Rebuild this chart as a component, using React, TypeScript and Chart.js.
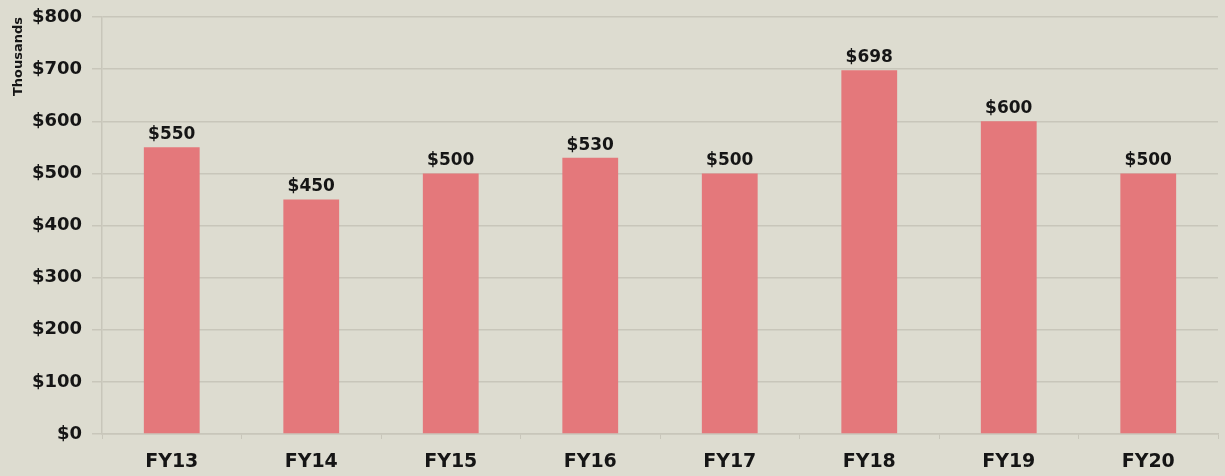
import React, { useEffect, useRef } from "react";
import { Chart, registerables } from "chart.js";

Chart.register(...registerables);

const categories = ["FY13", "FY14", "FY15", "FY16", "FY17", "FY18", "FY19", "FY20"];
const values = [550, 450, 500, 530, 500, 698, 600, 500];
const yMin = 0;
const yMax = 800;
const yStep = 100;
const axisTitle = "Thousands";

const BG = "#dddcd0";
const BAR = "#e4787b";
const TEXT = "#151515";
const GRID = "#c8c6ba";
const FONT = "'DejaVu Sans', sans-serif";

const bgPlugin = {
  id: "bgFill",
  beforeDraw(chart: any) {
    const { ctx, width, height } = chart;
    ctx.save();
    ctx.fillStyle = BG;
    ctx.fillRect(0, 0, width, height);
    ctx.restore();
  },
};

const labelPlugin = {
  id: "barLabels",
  afterDatasetsDraw(chart: any) {
    const { ctx } = chart;
    const meta = chart.getDatasetMeta(0);
    const ds = chart.data.datasets[0];
    ctx.save();
    ctx.fillStyle = TEXT;
    ctx.font = `bold 17px ${FONT}`;
    ctx.textAlign = "center";
    ctx.textBaseline = "alphabetic";
    meta.data.forEach((bar: any, i: number) => {
      ctx.fillText("$" + ds.data[i], bar.x, bar.y - 8);
    });
    ctx.restore();
  },
};

export default function App() {
  const ref = useRef<HTMLCanvasElement | null>(null);
  useEffect(() => {
    if (!ref.current) return;
    const chart = new Chart(ref.current, {
      type: "bar",
      data: {
        labels: categories,
        datasets: [
          {
            data: values,
            backgroundColor: BAR,
            borderWidth: 0,
            categoryPercentage: 1,
            barPercentage: 0.4,
          },
        ],
      },
      options: {
        responsive: false,
        animation: false,
        layout: { padding: { top: 17, right: 7, left: 0, bottom: 0 } },
        plugins: {
          legend: { display: false },
          tooltip: { enabled: false },
        },
        scales: {
          x: {
            afterFit: (s: any) => {
              s.height = 42;
              s.paddingLeft = 0;
              s.paddingRight = 0;
            },
            grid: {
              display: true,
              drawOnChartArea: false,
              drawTicks: true,
              tickLength: 5,
              color: GRID,
              offset: true,
            },
            border: { display: true, color: GRID, width: 1.5 },
            ticks: {
              color: TEXT,
              font: { family: FONT, size: 19, weight: "bold" },
              padding: 12,
              maxRotation: 0,
            },
          },
          y: {
            min: yMin,
            max: yMax,
            afterFit: (s: any) => {
              s.width = 102;
              s.paddingTop = 0;
              s.paddingBottom = 0;
            },
            grid: {
              color: GRID,
              lineWidth: 1.5,
              tickLength: 10,
            },
            border: { display: true, color: GRID, width: 1.5 },
            ticks: {
              stepSize: yStep,
              color: TEXT,
              padding: 10,
              font: { family: FONT, size: 18, weight: "bold" },
              callback: (v: any) => "$" + v,
            },
            title: {
              display: true,
              text: axisTitle,
              align: "end",
              color: TEXT,
              font: { family: FONT, size: 13, weight: "bold" },
              padding: { top: 11, bottom: 0 },
            },
          },
        },
      },
      plugins: [bgPlugin, labelPlugin],
    });
    return () => chart.destroy();
  }, []);
  return (
    <div style={{ position: "absolute", left: 0, top: 0, width: 1225, height: 476, background: BG }}>
      <canvas ref={ref} width={1225} height={476} />
    </div>
  );
}
